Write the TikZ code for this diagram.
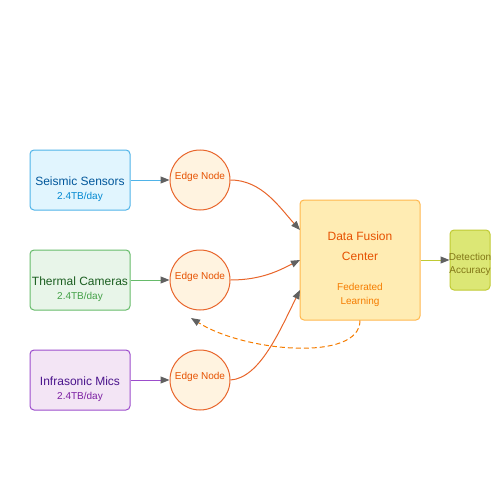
\documentclass[tikz,border=0pt]{standalone}
\usepackage{fontspec}
\setmainfont{Liberation Sans}
\usetikzlibrary{arrows.meta}
\definecolor{sbfill}{HTML}{E1F5FE}\definecolor{sbdraw}{HTML}{4FB3E8}\definecolor{sbtext}{HTML}{01579B}\definecolor{sbsub}{HTML}{0288D1}
\definecolor{tcfill}{HTML}{E8F5E9}\definecolor{tcdraw}{HTML}{66BB6A}\definecolor{tctext}{HTML}{1B5E20}\definecolor{tcsub}{HTML}{43A047}
\definecolor{imfill}{HTML}{F3E5F5}\definecolor{imdraw}{HTML}{9C4DCC}\definecolor{imtext}{HTML}{4A148C}\definecolor{imsub}{HTML}{7B1FA2}
\definecolor{enfill}{HTML}{FFF3E0}\definecolor{endraw}{HTML}{E8652A}\definecolor{entext}{HTML}{E65100}
\definecolor{dffill}{HTML}{FFECB3}\definecolor{dfdraw}{HTML}{FFB74D}\definecolor{dftext}{HTML}{E65100}\definecolor{dfsub}{HTML}{F57C00}
\definecolor{dafill}{HTML}{DCE775}\definecolor{dadraw}{HTML}{C0CA33}\definecolor{datext}{HTML}{827717}
\definecolor{tipc}{HTML}{616161}
\tikzset{
  sensor/.style={draw, line width=1pt, rounded corners=4pt, minimum width=100pt, minimum height=60pt, inner sep=0pt},
  edgenode/.style={circle, draw=endraw, fill=enfill, line width=1pt, minimum size=60pt, inner sep=0pt, text=entext, font=\fontsize{10}{12}\selectfont},
  conn/.style={line width=1pt, -{Triangle[length=9pt,width=7pt,fill=tipc,color=tipc]}},
  title/.style={font=\fontsize{12}{14}\selectfont},
  sub/.style={font=\fontsize{10}{12}\selectfont},
}
\begin{document}
\begin{tikzpicture}[x=1pt,y=-1pt]
\useasboundingbox (0,0) rectangle (500,500);
\node[sensor, draw=sbdraw, fill=sbfill] (s1) at (80,180) {};
\node[title, text=sbtext] (s1t) at (80,181) {Seismic Sensors};
\node[sub, text=sbsub] (s1s) at (80,196.5) {2.4TB/day};
\node[sensor, draw=tcdraw, fill=tcfill] (s2) at (80,280) {};
\node[title, text=tctext] (s2t) at (80,281) {Thermal Cameras};
\node[sub, text=tcsub] (s2s) at (80,296.5) {2.4TB/day};
\node[sensor, draw=imdraw, fill=imfill] (s3) at (80,380) {};
\node[title, text=imtext] (s3t) at (80,381) {Infrasonic Mics};
\node[sub, text=imsub] (s3s) at (80,396.5) {2.4TB/day};

\node[edgenode] (e1) at (200,180) {};
\node[edgenode] (e2) at (200,280) {};
\node[edgenode] (e3) at (200,380) {};
\node[text=entext, font=\fontsize{10}{12}\selectfont] (e1t) at (200,176.5) {Edge Node};
\node[text=entext, font=\fontsize{10}{12}\selectfont] (e2t) at (200,276.5) {Edge Node};
\node[text=entext, font=\fontsize{10}{12}\selectfont] (e3t) at (200,376.5) {Edge Node};

\node[draw=dfdraw, fill=dffill, line width=1pt, rounded corners=4pt, minimum width=120pt, minimum height=120pt, inner sep=0pt] (f) at (360,260) {};
\node[title, text=dftext] (ft1) at (360,236) {Data Fusion};
\node[title, text=dftext] (ft2) at (360,256) {Center};
\node[sub, text=dfsub] (fs1) at (360,286.5) {Federated};
\node[sub, text=dfsub] (fs2) at (360,301.5) {Learning};
\coordinate (in1) at (300,230);
\coordinate (in2) at (300,260);
\coordinate (in3) at (300,290);

\node[draw=dadraw, fill=dafill, line width=1pt, rounded corners=4pt, minimum width=40pt, minimum height=60pt, inner sep=0pt] (d) at (470,260) {};
\node[sub, text=datext] (dt1) at (470,256.5) {Detection};
\node[sub, text=datext] (dt2) at (470,271.5) {Accuracy};

\draw[conn, sbdraw] (s1.east) -- (e1.west);
\draw[conn, tcdraw] (s2.east) -- (e2.west);
\draw[conn, imdraw] (s3.east) -- (e3.west);

\draw[conn, endraw] (e1.east) .. controls (262,180) and (280,208) .. (in1);
\draw[conn, endraw] (e2.east) .. controls (262,280) and (280,270) .. (in2);
\draw[conn, endraw] (e3.east) .. controls (260,378) and (280,330) .. (in3);
\draw[conn, dadraw] (f.east) -- (d.west);

\coordinate (fb) at (191,318);
\draw[conn, dfsub, dashed, dash pattern=on 5pt off 3pt] (f.south) .. controls (360,362) and (245,352) .. (fb);
\end{tikzpicture}
\end{document}
